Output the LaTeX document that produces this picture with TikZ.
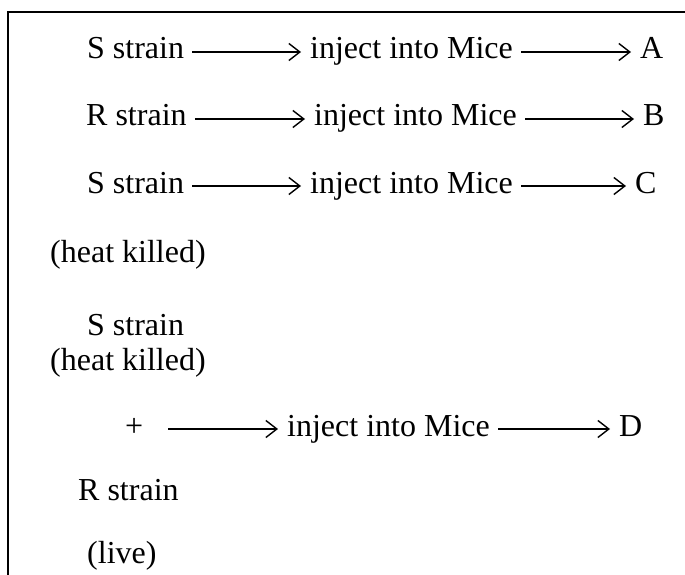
\documentclass[tikz,border=0pt]{standalone}
\usepackage{fontspec}
\setmainfont{Liberation Serif}
\usetikzlibrary{arrows.meta}
\begin{document}
\begin{tikzpicture}[x=1pt,y=-1pt,
  lbl/.style={anchor=base west,inner sep=0pt,text height=14pt,text depth=0pt,font=\fontsize{32}{38}\selectfont},
  conn/.style={-{Straight Barb[length=11pt,width=17pt,line width=1.4pt]},line width=1.4pt,shorten <=8pt,shorten >=9pt}]
\useasboundingbox (0,0) rectangle (685,575);
\draw[line width=2pt] (685,12) -- (8,12) -- (8,575);
% row 1
\node[lbl] (s1) at (87,59) {S strain};
\node[lbl] (m1) at (310,59) {inject into Mice};
\node[lbl] (ra) at (640,59) {A};
\draw[conn] (s1.east) -- (m1.west);
\draw[conn] (m1.east) -- (ra.west);
% row 2
\node[lbl] (s2) at (86,126) {R strain};
\node[lbl] (m2) at (314,126) {inject into Mice};
\node[lbl] (rb) at (643,126) {B};
\draw[conn] (s2.east) -- (m2.west);
\draw[conn] (m2.east) -- (rb.west);
% row 3
\node[lbl] (s3) at (87,193) {S strain};
\node[lbl] (m3) at (310,193) {inject into Mice};
\node[lbl] (rc) at (635,193) {C};
\draw[conn] (s3.east) -- (m3.west);
\draw[conn] (m3.east) -- (rc.west);
\node[lbl] (h1) at (50,262) {(heat killed)};
% row 4
\node[lbl] (s4) at (87,335) {S strain};
\node[lbl] (h2) at (50,370) {(heat killed)};
\node[lbl] (plus) at (125,436) {+};
\node[lbl] (m4) at (287,436) {inject into Mice};
\node[lbl] (rd) at (619,436) {D};
\draw[conn,shorten <=25pt] (plus.east) -- (m4.west);
\draw[conn] (m4.east) -- (rd.west);
\node[lbl] (r5) at (78,500) {R strain};
\node[lbl] (live) at (87,563) {(live)};
\end{tikzpicture}
\end{document}
